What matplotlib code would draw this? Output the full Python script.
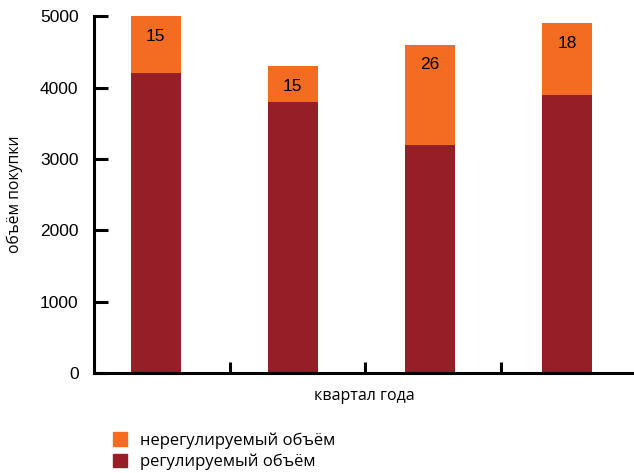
import numpy as np
import matplotlib.pyplot as plt
from matplotlib.patches import Patch

# значения по кварталам
quarters = ["1", "2", "3", "4"]
regulated = [4200, 3800, 3200, 3900]
unregulated = [800, 500, 1400, 1000]
share_labels = ["15", "15", "26", "18"]

orange = "#F36C21"
darkred = "#961E26"

fig = plt.figure(figsize=(6.34, 4.73), dpi=100)
ax = fig.add_axes([0.148, 0.211, 0.852, 0.755])

x = np.arange(len(quarters))
ax.bar(x, regulated, width=0.365, color=darkred)
ax.bar(x, unregulated, width=0.365, bottom=regulated, color=orange)

for i in range(len(quarters)):
    top = regulated[i] + unregulated[i]
    ax.annotate(share_labels[i], (x[i], top), xytext=(0, -14.5), textcoords="offset points",
                ha="center", va="center", fontsize=12.5, family="Liberation Sans")

ax.set_xlim(-0.45, 3.49)
ax.set_ylim(0, 5000)
ax.set_yticks([0, 1000, 2000, 3000, 4000, 5000])
ax.set_xticks([0.54, 1.53, 2.52])
ax.set_xticklabels([])
ax.tick_params(axis="y", direction="in", length=10, width=2.2, labelsize=12.5, pad=11)
ax.tick_params(axis="x", direction="in", length=8, width=2.2)
for lbl in ax.get_yticklabels():
    lbl.set_family("Liberation Sans")

for s in ["top", "right"]:
    ax.spines[s].set_visible(False)
ax.spines["left"].set_linewidth(2.2)
ax.spines["bottom"].set_linewidth(2.2)

ax.set_xlabel("квартал года", fontsize=11.5, family="Open Sans", labelpad=7)
ax.set_ylabel("объём покупки", fontsize=11.3, family="Open Sans", labelpad=12)

handles = [Patch(color=orange, label="нерегулируемый объём"),
           Patch(color=darkred, label="регулируемый объём")]
fig.legend(handles=handles, loc="upper left", bbox_to_anchor=(0.168, 0.1),
           frameon=False, handlelength=0.85, handleheight=0.85, handletextpad=0.75,
           labelspacing=0.3, borderaxespad=0, prop={"family": "Open Sans", "size": 12})

fig.savefig("out.png", dpi=100)
